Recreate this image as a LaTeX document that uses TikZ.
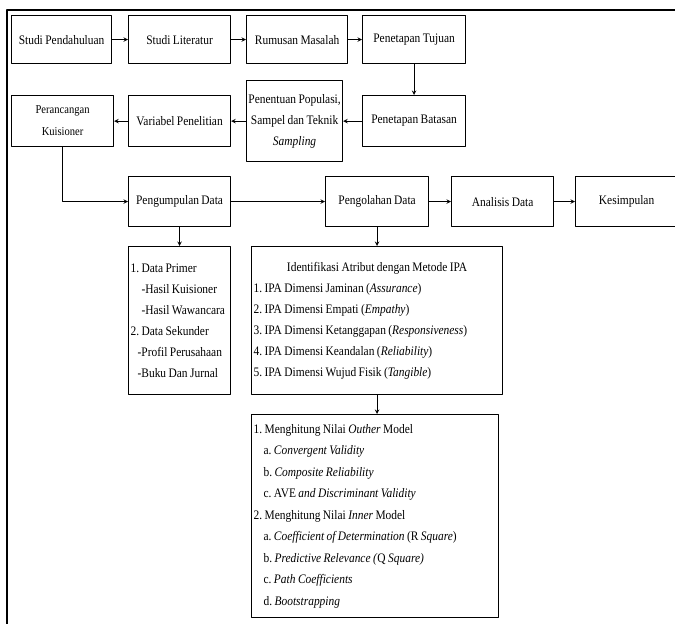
\documentclass[tikz,border=0pt]{standalone}
\usepackage{fontspec}
\setmainfont{Liberation Serif}[FakeStretch=0.88,WordSpace=0.85]
\frenchspacing
\begin{document}
\begin{tikzpicture}[x=1pt,y=-1pt,font=\fontsize{13}{21}\selectfont,line join=round,>=stealth,
 box/.style={draw,line width=1.2pt,anchor=north west,inner sep=1pt,align=center},
 list/.style={box,align=flush left,inner xsep=2pt}]
\useasboundingbox(0,0)rectangle(675,624);
\draw[line width=1.6pt](7,624)--(7,10)--(675,10);
% tahap awal
\node[box,minimum width=100pt,minimum height=48pt](sp)at(11,15){Studi Pendahuluan};
\node[box,minimum width=102pt,minimum height=48pt](sl)at(128,15){Studi Literatur};
\node[box,minimum width=101pt,minimum height=48pt](rm)at(246,15){Rumusan Masalah};
\node[box,minimum width=103pt,minimum height=48pt](tj)at(362,15){Penetapan Tujuan};
\node[box,minimum width=103pt,minimum height=51pt](bt)at(362,95){Penetapan Batasan};
\node[box,minimum width=96pt,minimum height=81pt](pp)at(246,80){Penentuan Populasi,\\Sampel dan Teknik\\\textit{Sampling}};
\node[box,minimum width=102pt,minimum height=51pt](vp)at(128,95){Variabel Penelitian};
\node[box,minimum width=102pt,minimum height=51pt,font=\fontsize{12}{22}\selectfont](pk)at(11,95){Perancangan\\Kuisioner};
% tahap pengumpulan dan pengolahan
\node[box,minimum width=102pt,minimum height=50pt](pd)at(128,176){Pengumpulan Data};
\node[box,minimum width=103pt,minimum height=50pt](ol)at(325,176){Pengolahan Data};
\node[box,minimum width=102pt,minimum height=50pt](ad)at(451,176){Analisis Data};
\node[box,minimum width=102pt,minimum height=50pt](ks)at(575,176){Kesimpulan};
\node[list,text width=98pt,minimum height=148pt](dp)at(128,246){1. Data Primer\\
\hspace*{11pt}-Hasil Kuisioner\\
\hspace*{11pt}-Hasil Wawancara\\
2. Data Sekunder\\
\hspace*{7pt}-Profil Perusahaan\\
\hspace*{7pt}-Buku Dan Jurnal};
\node[list,text width=247pt,minimum height=148pt](ia)at(251,246){\makebox[247pt]{Identifikasi Atribut dengan Metode IPA}\\
1. IPA Dimensi Jaminan (\textit{Assurance})\\
2. IPA Dimensi Empati (\textit{Empathy})\\
3. IPA Dimensi Ketanggapan (\textit{Responsiveness})\\
4. IPA Dimensi Keandalan (\textit{Reliability})\\
5. IPA Dimensi Wujud Fisik (\textit{Tangible})};
\node[list,text width=243pt,minimum height=203pt,font=\fontsize{13}{21.5}\selectfont](hm)at(251,414){1. Menghitung Nilai \textit{Outher} Model\\
\hspace*{10pt}a. \textit{Convergent Validity}\\
\hspace*{10pt}b. \textit{Composite Reliability}\\
\hspace*{10pt}c. AVE \textit{and Discriminant Validity}\\
2. Menghitung Nilai \textit{Inner} Model\\
\hspace*{10pt}a. \textit{Coefficient of Determination} (R \textit{Square})\\
\hspace*{10pt}b. \textit{Predictive Relevance (}Q \textit{Square)}\\
\hspace*{10pt}c. \textit{Path Coefficients}\\
\hspace*{10pt}d. \textit{Bootstrapping}};
% alur
\foreach \a/\b in{sp/sl,sl/rm,rm/tj,tj/bt,bt/pp,pp/vp,vp/pk,pd/ol,ol/ad,ad/ks,pd/dp,ol/ia}
\draw[->,line width=1pt](\a)--(\b);
\draw[->,line width=1pt](pk.south)|-(pd);
\draw[->,line width=1pt](ia.south)--(ia.south|-hm.north);
\end{tikzpicture}
\end{document}
